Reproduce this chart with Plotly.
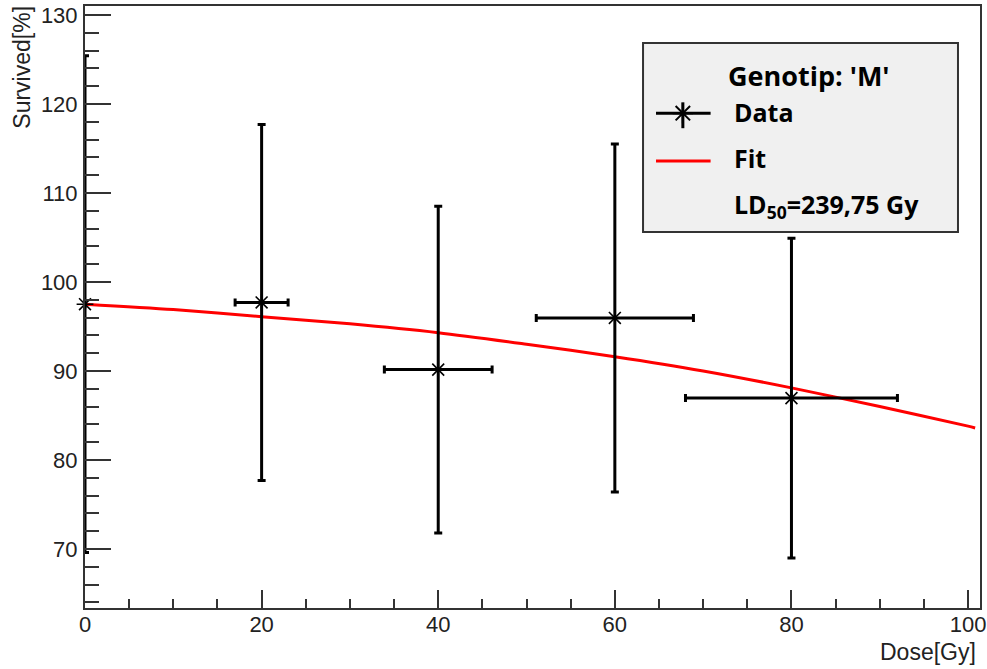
import plotly.graph_objects as go

# ---- data ----
dose = [0, 20, 40, 60, 80]
survived = [97.5, 97.7, 90.15, 95.95, 86.95]
dose_err = [0, 3.0, 6.1, 8.9, 12.0]
surv_err = [27.9, 20.0, 18.35, 19.55, 17.95]

fit_dose = [0, 10, 20, 30, 40, 50, 60, 70, 80, 90, 100, 100.8]
fit_surv = [97.5, 96.9, 96.1, 95.3, 94.3, 93.0, 91.6, 90.0, 88.1, 86.0, 83.8, 83.6]

x_ticks = [0, 20, 40, 60, 80, 100]
y_ticks = [70, 80, 90, 100, 110, 120, 130]

legend_title = "Genotip: 'M'"
legend_data = "Data"
legend_fit = "Fit"
legend_ld = "LD<sub>50</sub>=239,75 Gy"

AX = "#333333"
TICKFONT = dict(family="Liberation Sans, Arial, sans-serif", size=22, color="#222222")
LEGFONT = "Open Sans, Lato, sans-serif"

fig = go.Figure()

fig.add_trace(go.Scatter(
    x=fit_dose, y=fit_surv, mode="lines",
    line=dict(color="#ff0000", width=3, shape="spline", smoothing=0.8),
    showlegend=False, hoverinfo="skip",
))

fig.add_trace(go.Scatter(
    x=dose, y=survived, mode="markers",
    marker=dict(symbol="asterisk-open", size=14, color="black",
                line=dict(color="black", width=1.6)),
    error_x=dict(type="data", array=dose_err, visible=True, color="black",
                 thickness=3, width=4),
    error_y=dict(type="data", array=surv_err, visible=True, color="black",
                 thickness=3, width=4),
    cliponaxis=False, showlegend=False,
))

# legend star symbol on an overlay axis spanning the plot area
fig.add_trace(go.Scatter(
    x=[0.668], y=[0.822], mode="markers", xaxis="x2", yaxis="y2",
    marker=dict(symbol="asterisk-open", size=17, color="black",
                line=dict(color="black", width=2)),
    showlegend=False, hoverinfo="skip", cliponaxis=False,
))

fig.update_layout(
    width=987, height=669,
    margin=dict(l=85, r=7, t=6, b=61),
    paper_bgcolor="white", plot_bgcolor="white",
    xaxis=dict(
        range=[0, 101.35], tickvals=x_ticks, ticks="inside", ticklen=18,
        tickwidth=1.5, tickcolor=AX, showline=True, linecolor=AX, linewidth=2,
        mirror=True, showgrid=False, zeroline=False, tickfont=TICKFONT,
        minor=dict(dtick=5, tick0=0, ticks="inside", ticklen=9, tickwidth=1.5,
                   tickcolor=AX, showgrid=False),
        ticklabelstandoff=-4, automargin=False,
    ),
    yaxis=dict(
        range=[63.37, 131.0], tickvals=y_ticks, ticks="inside", ticklen=26,
        tickwidth=1.5, tickcolor=AX, showline=True, linecolor=AX, linewidth=2,
        mirror=True, showgrid=False, zeroline=False, tickfont=TICKFONT,
        minor=dict(dtick=2, tick0=0, ticks="inside", ticklen=14, tickwidth=1.5,
                   tickcolor=AX, showgrid=False),
        ticklabelstandoff=1, automargin=False,
    ),
    xaxis2=dict(range=[0, 1], overlaying="x", visible=False, fixedrange=True),
    yaxis2=dict(range=[0, 1], overlaying="y", visible=False, fixedrange=True),
)

# legend box and symbols
fig.add_shape(type="rect", xref="paper", yref="paper",
              x0=0.6235, x1=0.9754, y0=0.6246, y1=0.9385,
              fillcolor="#f0f0f0", line=dict(color="#333333", width=2), layer="below")
fig.add_shape(type="line", xref="paper", yref="paper",
              x0=0.638, x1=0.699, y0=0.822, y1=0.822,
              line=dict(color="black", width=3), layer="above")
fig.add_shape(type="line", xref="paper", yref="paper",
              x0=0.668, x1=0.668, y0=0.797, y1=0.840,
              line=dict(color="black", width=3), layer="above")
fig.add_shape(type="line", xref="paper", yref="paper",
              x0=0.638, x1=0.699, y0=0.7425, y1=0.7425,
              line=dict(color="#ff0000", width=3), layer="above")

ann = [
    (legend_title, 0.717, 0.884, 27),
    (legend_data, 0.724, 0.824, 25),
    (legend_fit, 0.724, 0.7475, 25),
    (legend_ld, 0.724, 0.669, 25),
]
for txt, x, y, s in ann:
    fig.add_annotation(text="<b>" + txt + "</b>", xref="paper", yref="paper",
                       x=x, y=y, xanchor="left", yanchor="middle", showarrow=False,
                       borderpad=0,
                       font=dict(family=LEGFONT, size=s, color="black"))

# axis titles (ROOT style, at the axis ends)
fig.add_annotation(text="Survived[%]", xref="paper", yref="paper",
                   x=(22 - 85) / 895, y=1.003, xanchor="center", yanchor="top",
                   textangle=-90, showarrow=False,
                   font=dict(family="Liberation Sans, Arial, sans-serif", size=23, color="#222222"))
fig.add_annotation(text="Dose[Gy]", xref="paper", yref="paper",
                   x=(978 - 85) / 895, y=(608 - 652) / 602, xanchor="right", yanchor="middle",
                   showarrow=False,
                   font=dict(family="Liberation Sans, Arial, sans-serif", size=23, color="#222222"))

fig.write_html("out.html", config={"displayModeBar": False},
               post_script="document.body.style.margin='0px';")
